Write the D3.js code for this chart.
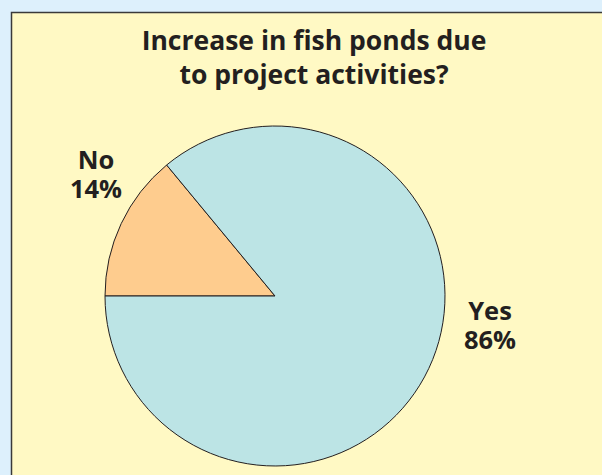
<!DOCTYPE html>
<html><head><meta charset="utf-8">
<script src="https://cdn.jsdelivr.net/npm/d3@7"></script>
<style>html,body{margin:0;padding:0;background:#DDF0FC;}svg{display:block;}</style>
</head><body>
<svg id="chart" width="602" height="475"></svg>
<script>
const categories = ["No", "Yes"];
const values = [14, 86];
const labels = ["14%", "86%"];
const colors = ["#FECC8E", "#BCE4E5"];
const titleLines = ["Increase in fish ponds due", "to project activities?"];

const svg = d3.select("#chart");
const font = "'Open Sans', Lato, sans-serif";
svg.append("rect").attr("x", 0).attr("y", 0).attr("width", 602).attr("height", 475).attr("fill", "#DDF0FC");
svg.append("rect").attr("x", 11.5).attr("y", 12.5).attr("width", 600).attr("height", 480)
  .attr("fill", "#FFF9C4").attr("stroke", "#3a3a3a").attr("stroke-width", 1.5);

svg.selectAll("text.title").data(titleLines).join("text").attr("class", "title")
  .attr("x", 314).attr("y", (d, i) => 50 + i * 34)
  .attr("text-anchor", "middle").attr("font-family", font).attr("font-weight", "bold")
  .attr("font-size", 26.5).attr("fill", "#231f20").text(d => d);

const cx = 275, cy = 296, r = 170;
const pie = d3.pie().sort(null).startAngle(-Math.PI / 2).endAngle(1.5 * Math.PI)(values);
const arc = d3.arc().innerRadius(0).outerRadius(r);
const g = svg.append("g").attr("transform", `translate(${cx},${cy})`);
g.selectAll("path").data(pie).join("path").attr("d", arc)
  .attr("fill", (d, i) => colors[i]).attr("stroke", "#231f20").attr("stroke-width", 1);

const labelPos = [[96, 169], [490, 320]];
categories.forEach((c, i) => {
  const t = svg.append("text").attr("x", labelPos[i][0]).attr("y", labelPos[i][1])
    .attr("text-anchor", "middle").attr("font-family", font).attr("font-weight", "bold")
    .attr("font-size", 25.5).attr("fill", "#231f20");
  t.append("tspan").attr("x", labelPos[i][0]).text(c);
  t.append("tspan").attr("x", labelPos[i][0]).attr("dy", 29).text(labels[i]);
});
</script>
</body></html>
